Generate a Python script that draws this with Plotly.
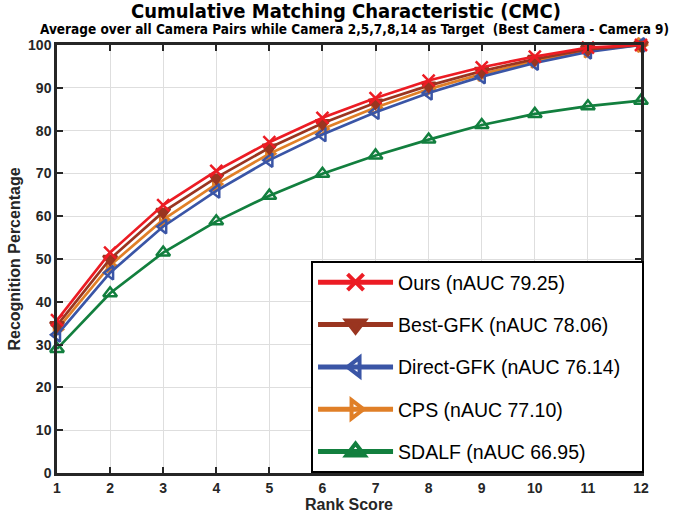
import plotly.graph_objects as go

rank = [1, 2, 3, 4, 5, 6, 7, 8, 9, 10, 11, 12]
ours = [35.7, 51.5, 62.6, 70.6, 77.3, 83.0, 87.6, 91.7, 94.8, 97.3, 99.4, 100.0]
best_gfk = [34.5, 50.0, 61.0, 69.0, 76.0, 81.7, 86.5, 90.5, 93.9, 96.7, 99.0, 100.0]
direct_gfk = [32.3, 46.8, 57.6, 65.9, 73.1, 79.1, 84.3, 88.8, 92.6, 95.8, 98.4, 100.0]
cps = [33.5, 48.5, 59.2, 67.5, 74.6, 80.4, 85.4, 89.7, 93.2, 96.3, 98.7, 100.0]
sdalf = [29.0, 42.0, 51.5, 58.8, 64.8, 69.9, 74.2, 77.9, 81.3, 83.9, 85.7, 87.0]

names = ["Ours (nAUC 79.25)", "Best-GFK (nAUC 78.06)", "Direct-GFK (nAUC 76.14)",
         "CPS (nAUC 77.10)", "SDALF (nAUC 66.95)"]
series = [ours, best_gfk, direct_gfk, cps, sdalf]
colors = ["#EC1C24", "#9A3520", "#3A55A6", "#E07F27", "#127F3E"]
symbols = ["x-thin", "triangle-down", "triangle-left-open", "triangle-right-open", "triangle-up-open"]

title_text = "Cumulative Matching Characteristic (CMC)"
subtitle_text = "Average over all Camera Pairs while Camera 2,5,7,8,14 as Target  (Best Camera - Camera 9)"

fig = go.Figure()
for i in reversed(range(len(series))):
    fig.add_trace(go.Scatter(
        x=rank, y=series[i], mode="lines+markers", name=names[i], showlegend=False,
        line=dict(color=colors[i], width=2.7),
        marker=dict(symbol=symbols[i], size=12, color=colors[i],
                    line=dict(color=colors[i], width=2.5)),
        cliponaxis=False))
for i in range(len(series)):
    fig.add_trace(go.Scatter(
        x=[None], y=[None], mode="lines+markers", name=names[i] + "\u00a0\u00a0\u00a0",
        legendgroup="g%d" % i,
        line=dict(color=colors[i], width=5),
        marker=dict(symbol=symbols[i], size=18, color=colors[i],
                    line=dict(color=colors[i], width=4))))

axis_common = dict(showline=True, linecolor="#262626", linewidth=2.5, mirror="ticks",
                   ticks="inside", ticklen=6, tickwidth=2, tickcolor="#262626",
                   showgrid=True, gridcolor="#dedede", gridwidth=1, zeroline=False,
                   automargin=False,
                   tickfont=dict(family="Liberation Sans", size=14, color="#262626", weight="bold"))

fig.update_layout(
    width=673, height=515,
    margin=dict(l=57, r=32, t=45, b=42),
    paper_bgcolor="white", plot_bgcolor="white",
    xaxis=dict(range=[1, 12], tickvals=rank, title=dict(text="<b>Rank Score</b>", standoff=2,
               font=dict(family="Liberation Sans", size=16, color="#262626")), **axis_common),
    yaxis=dict(range=[0, 100], tickvals=list(range(0, 101, 10)),
               title=dict(text="<b>Recognition Percentage</b>", standoff=4,
                          font=dict(family="Liberation Sans", size=16, color="#262626")),
               **axis_common),
    legend=dict(x=0.435, xanchor="left", y=0.0, yanchor="bottom",
                bgcolor="white", bordercolor="#000", borderwidth=2,
                font=dict(family="Liberation Sans", size=19.5, color="#000"),
                itemwidth=75, tracegroupgap=14, traceorder="grouped"),
    annotations=[
        dict(text="<b>%s</b>" % title_text, xref="paper", yref="paper", x=0.4957, y=1.0,
             yshift=34, xanchor="center", yanchor="middle", showarrow=False,
             font=dict(family="DejaVu Sans Condensed, DejaVu Sans", size=20, color="#000")),
        dict(text="<b>%s</b>" % subtitle_text, xref="paper", yref="paper", x=0.5086, y=1.0,
             yshift=16, xanchor="center", yanchor="middle", showarrow=False,
             font=dict(family="DejaVu Sans Condensed, DejaVu Sans", size=13.5, color="#000")),
    ],
)

fig.write_html("out.html", config={"displayModeBar": False},
               post_script="document.body.style.margin='0px';")
